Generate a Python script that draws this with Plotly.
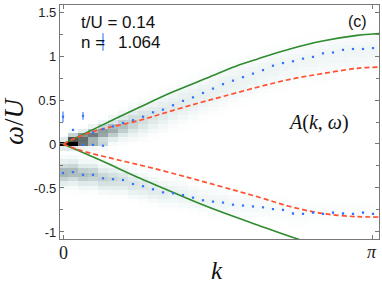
import numpy as np
import plotly.graph_objects as go

PI = np.pi

# ---------------- data ----------------
k_index = list(range(32))                       # k = i*pi/31
blue_up = [0.31, 0.16, 0.32, 0.13, 0.17, 0.20, 0.24, 0.27, 0.31, 0.36, 0.39, 0.44,
           0.49, 0.53, 0.58, 0.63, 0.68, 0.72, 0.76, 0.80, 0.84, 0.89, 0.92, 0.94,
           0.97, 0.99, 1.03, 1.04, 1.07, 1.08, 1.08, 1.09]
blue_up_err = [0.06, 0.005, 0.045] + [0.005] * 29
blue_lo = [-0.33, -0.32, -0.35, -0.35, -0.39, -0.40, -0.41, -0.455, -0.48, -0.515,
           -0.55, -0.56, -0.58, -0.61, -0.64, -0.655, -0.666, -0.69, -0.70, -0.71,
           -0.72, -0.74, -0.75, -0.79, -0.795, -0.78, -0.795, -0.78, -0.79, -0.795,
           -0.78, -0.795]
blue_lo_err = [0.005] * 22 + [0.013] * 10
blue_zero_idx = [2, 3, 4]
blue_zero = [-0.01, -0.01, -0.02]
blue_extra_idx = [4]
blue_extra = [1.16]
blue_extra_err = [0.1]

green_up_k = [0, 0.37, 0.78, 1.11, 1.46, 1.79, 1.98, 2.30, 2.63, 2.98, 3.14, 3.21]
green_up = [0, 0.20, 0.42, 0.59, 0.75, 0.90, 0.97, 1.08, 1.17, 1.235, 1.25, 1.255]
green_lo_k = [0, 0.37, 0.78, 1.03, 1.39, 1.62, 1.97, 2.38, 2.71]
green_lo = [0, -0.18, -0.39, -0.51, -0.68, -0.78, -0.92, -1.08, -1.18]
red_up_k = [0, 0.27, 0.78, 1.11, 1.39, 1.62, 1.97, 2.30, 2.63, 2.98, 3.21]
red_up = [0, 0.13, 0.27, 0.38, 0.47, 0.54, 0.645, 0.735, 0.80, 0.86, 0.875]
red_lo_k = [0, 0.17, 0.98, 1.59, 1.97, 2.30, 2.63, 2.98, 3.21]
red_lo = [0, -0.07, -0.295, -0.48, -0.60, -0.71, -0.79, -0.826, -0.83]

# spectral-function band estimates per k column (centre, width, weight)
band_up = [0.02, 0.05, 0.07, 0.10, 0.13, 0.16, 0.20, 0.24, 0.28, 0.32, 0.36, 0.41,
           0.46, 0.50, 0.55, 0.60, 0.65, 0.69, 0.73, 0.77, 0.81, 0.85, 0.88, 0.91,
           0.94, 0.96, 0.99, 1.01, 1.03, 1.04, 1.05, 1.06]
band_up_w = [0.04, 0.04, 0.045, 0.05, 0.06, 0.07, 0.08, 0.09, 0.1, 0.1, 0.11, 0.11,
             0.12, 0.12, 0.12, 0.12, 0.12, 0.12, 0.12, 0.12, 0.12, 0.12, 0.12, 0.12,
             0.12, 0.12, 0.12, 0.12, 0.12, 0.12, 0.12, 0.12]
band_up_amp = [0.0, 0.55, 0.6, 0.55, 0.48, 0.4, 0.33, 0.27, 0.22, 0.18, 0.15, 0.13,
               0.12, 0.11, 0.1, 0.095, 0.09, 0.085, 0.08, 0.075, 0.07, 0.07, 0.065, 0.065,
               0.06, 0.06, 0.06, 0.06, 0.06, 0.06, 0.06, 0.06]
band_lo_amp = [0.38, 0.36, 0.33, 0.3, 0.27, 0.24, 0.21, 0.18, 0.16, 0.14, 0.12, 0.1,
               0.09, 0.08, 0.07, 0.065, 0.06, 0.05, 0.045, 0.04, 0.035, 0.03, 0.03,
               0.025, 0.025, 0.02, 0.02, 0.02, 0.02, 0.02, 0.02, 0.02]
band_zero_amp = [1.0, 0.9, 0.4, 0.3, 0.2] + [0.0] * 27

# ---------------- build figure ----------------
kvals = np.array(k_index) * PI / 31
wrows = np.round(np.arange(-1.10, 1.62, 0.05), 3)
W, _ = np.meshgrid(wrows, kvals, indexing="ij")
z = np.zeros_like(W)
for j in range(len(kvals)):
    col = W[:, j]
    z[:, j] += band_up_amp[j] * np.exp(-0.5 * ((col - band_up[j]) / band_up_w[j]) ** 2)
    z[:, j] += band_lo_amp[j] * np.exp(-0.5 * ((col - blue_lo[j]) / 0.08) ** 2)
    z[:, j] += band_zero_amp[j] * np.exp(-0.5 * (col / 0.025) ** 2)
z = np.clip(z, 0, 1)

cscale = [[0, "#ffffff"], [0.05, "#f2f7f7"], [0.2, "#d5e2e2"], [0.45, "#909f9f"],
          [0.7, "#434b4b"], [1, "#000000"]]

fig = go.Figure()
fig.add_trace(go.Heatmap(x=kvals, y=wrows, z=z, colorscale=cscale, zmin=0, zmax=1,
                         showscale=False, zsmooth=False, hoverinfo="skip"))

green = "#2e8b2e"
red = "#ff5030"
blue = "#3373ff"
fig.add_trace(go.Scatter(x=green_up_k, y=green_up, mode="lines", line=dict(color=green, width=1.6, shape="spline")))
fig.add_trace(go.Scatter(x=green_lo_k, y=green_lo, mode="lines", line=dict(color=green, width=1.6, shape="spline")))
fig.add_trace(go.Scatter(x=red_up_k, y=red_up, mode="lines", line=dict(color=red, width=1.7, dash="5px,3px", shape="spline")))
fig.add_trace(go.Scatter(x=red_lo_k, y=red_lo, mode="lines", line=dict(color=red, width=1.7, dash="5px,3px", shape="spline")))

mk = dict(symbol="square", size=2.2, color=blue, line=dict(width=0))
eb = dict(type="data", thickness=1.1, width=0, color=blue)
fig.add_trace(go.Scatter(x=kvals, y=blue_up, mode="markers", marker=mk,
                         error_y=dict(array=blue_up_err, **eb)))
fig.add_trace(go.Scatter(x=kvals, y=blue_lo, mode="markers", marker=mk,
                         error_y=dict(array=blue_lo_err, **eb)))
fig.add_trace(go.Scatter(x=[kvals[i] for i in blue_zero_idx], y=blue_zero, mode="markers", marker=mk))
fig.add_trace(go.Scatter(x=[kvals[i] for i in blue_extra_idx], y=blue_extra, mode="markers", marker=mk,
                         error_y=dict(array=blue_extra_err, **eb)))

axcol = "#777777"
fig.update_xaxes(range=[-0.0304, 3.2025], tickvals=[0, PI], ticktext=["", ""],
                 ticks="inside", ticklen=4, tickcolor=axcol, showline=True, linecolor=axcol,
                 linewidth=1.3, mirror="ticks", showgrid=False, zeroline=False)
fig.update_yaxes(range=[-1.08, 1.58], tickvals=[-1, -0.5, 0, 0.5, 1, 1.5],
                 ticktext=["-1", "-0.5", "0", "0.5", "1", "1.5"],
                 ticks="inside", ticklen=4, tickcolor=axcol, showline=True, linecolor=axcol,
                 linewidth=1.3, mirror="ticks", showgrid=False, zeroline=False,
                 minor=dict(dtick=0.25, ticks="inside", ticklen=3, tickcolor=axcol),
                 tickfont=dict(family="Liberation Sans", size=13, color="#222"))

def px(xp, yp):
    return (xp - 60) / 319, (239 - yp) / 234

ann = []
x0, y0 = px(79, 23)
ann.append(dict(x=x0, y=y0, text="t/U = 0.14", xanchor="left", yanchor="middle",
                font=dict(family="Liberation Sans", size=17, color="#111")))
x0, y0 = px(79, 42)
ann.append(dict(x=x0, y=y0, text="n = \u2009 1.064", xanchor="left", yanchor="middle",
                font=dict(family="Liberation Sans", size=17, color="#111")))
x0, y0 = px(369, 22)
ann.append(dict(x=x0, y=y0, text="(c)", xanchor="right", yanchor="middle",
                font=dict(family="Liberation Sans", size=16, color="#111")))
x0, y0 = px(318, 122)
ann.append(dict(x=x0, y=y0, text="<i>A</i>(<i>k</i>, <i>ω</i>)", xanchor="center", yanchor="middle",
                font=dict(family="Liberation Serif", size=20, color="#111")))
x0, y0 = px(217, 270)
ann.append(dict(x=x0, y=y0, text="<i>k</i>", xanchor="center", yanchor="middle",
                font=dict(family="Liberation Serif", size=25, color="#111")))
x0, y0 = px(14, 121)
ann.append(dict(x=x0, y=y0, text="<i>ω</i>/<i>U</i>", xanchor="center", yanchor="middle",
                textangle=-90, font=dict(family="Liberation Serif", size=27, color="#111")))
x0, y0 = px(63, 253)
ann.append(dict(x=x0, y=y0, text="0", xanchor="center", yanchor="middle",
                font=dict(family="Liberation Serif", size=18, color="#222")))
x0, y0 = px(372, 252)
ann.append(dict(x=x0, y=y0, text="<i>π</i>", xanchor="center", yanchor="middle",
                font=dict(family="Liberation Serif", size=18, color="#222")))
for a in ann:
    a.update(xref="paper", yref="paper", showarrow=False)

fig.update_layout(width=382, height=287, margin=dict(l=60, r=3, t=5, b=48),
                  paper_bgcolor="white", plot_bgcolor="white", showlegend=False,
                  annotations=ann)
fig.write_html("out.html", config={"displayModeBar": False},
               post_script="document.body.style.margin='0';document.body.style.overflow='hidden';")
